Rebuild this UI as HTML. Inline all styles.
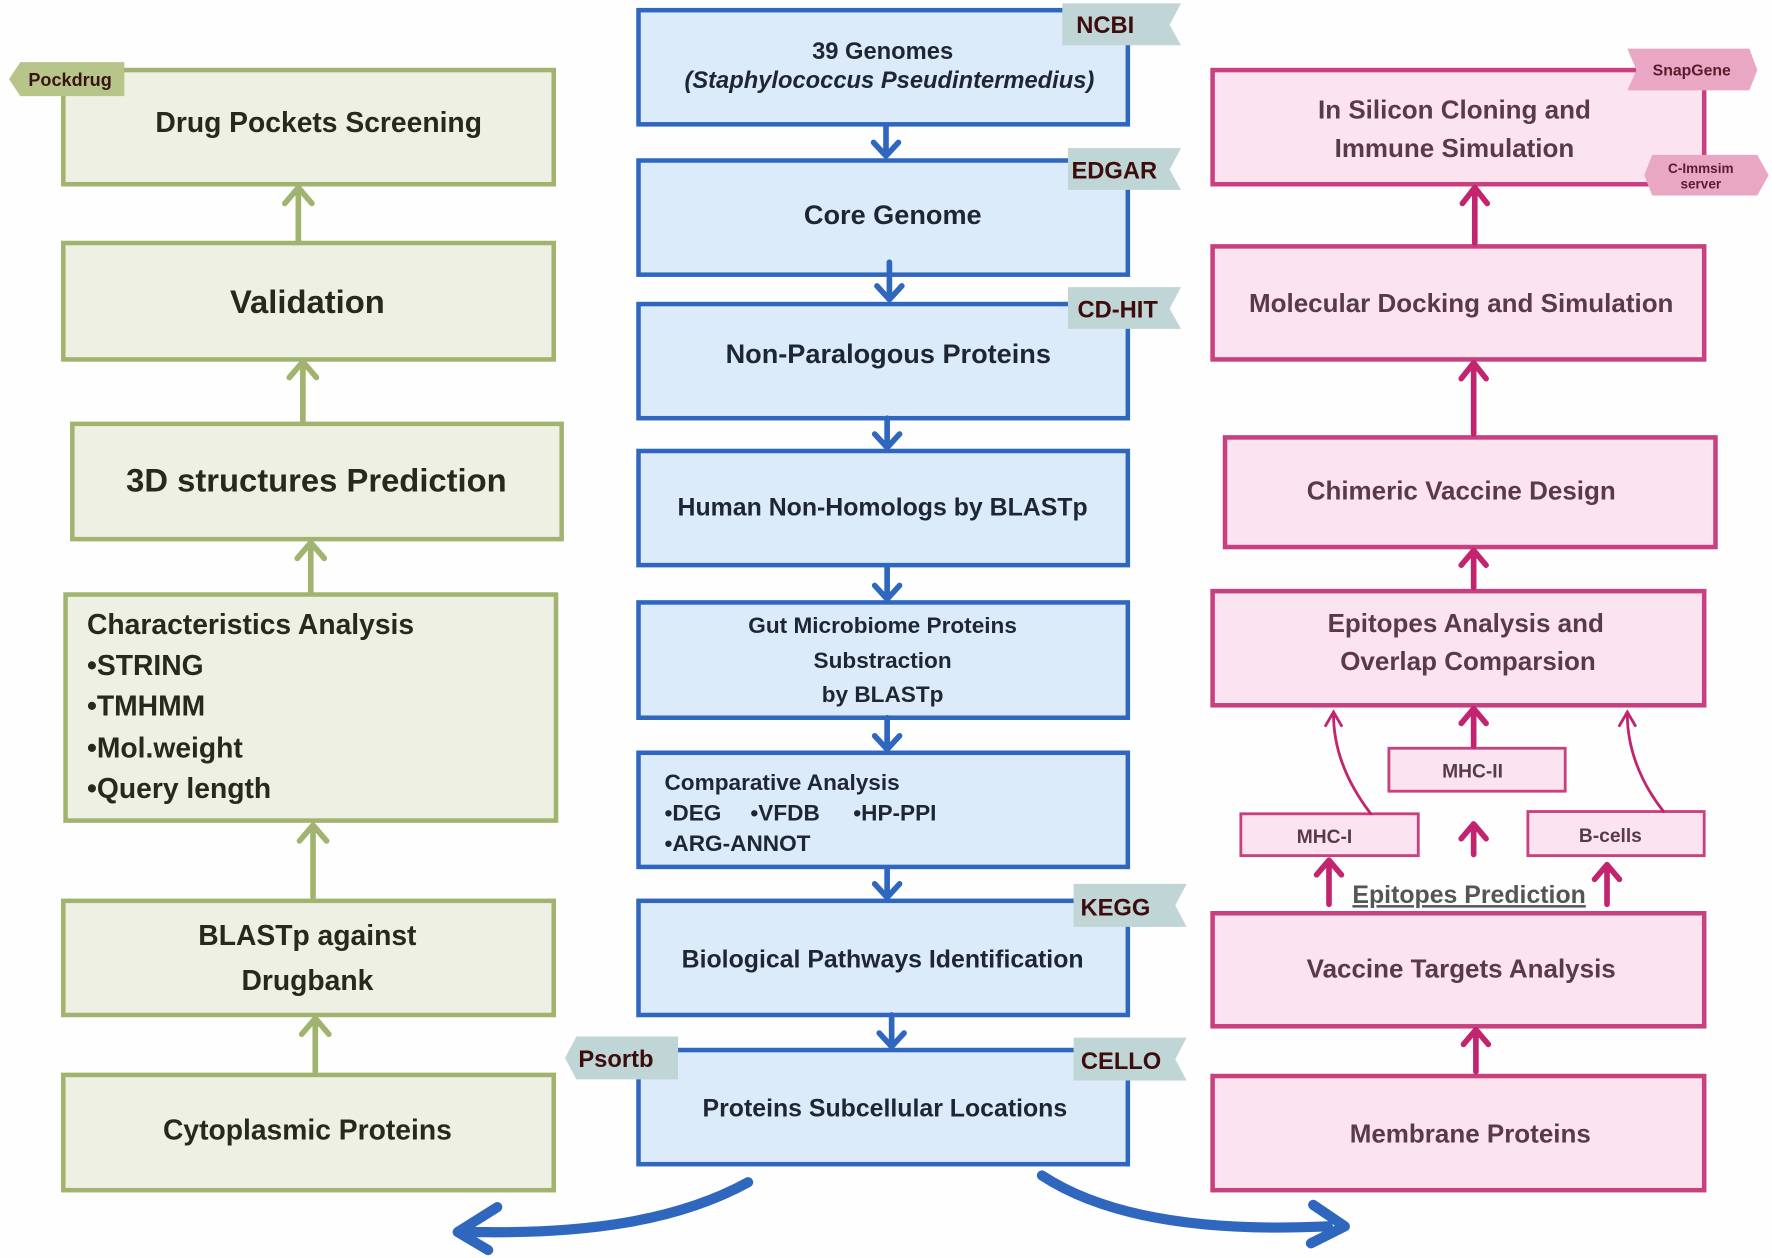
<!DOCTYPE html>
<html><head><meta charset="utf-8"><style>
html,body{margin:0;padding:0;background:#fdfefd;}
svg{display:block;}
text{font-family:"Liberation Sans",sans-serif;font-weight:bold;}
</style></head><body>
<svg width="1772" height="1258" viewBox="0 0 1568 1113" preserveAspectRatio="none" xmlns="http://www.w3.org/2000/svg">
<rect width="1568" height="1113" fill="#fdfefd"/>
<!-- GREEN COLUMN -->
<g fill="#eef0e3" stroke="#a0b46f" stroke-width="4">
<rect x="56" y="62" width="434" height="101"/>
<rect x="56" y="215" width="434" height="103"/>
<rect x="64" y="375" width="433" height="102"/>
<rect x="58" y="526" width="434" height="200"/>
<rect x="56" y="797" width="434" height="101"/>
<rect x="56" y="951" width="434" height="102"/>
</g>
<g stroke="#a0b46f" stroke-width="5" fill="none" stroke-linecap="round" stroke-linejoin="round">
<path d="M264 213V168M252 180L264 166L276 180"/>
<path d="M268 372V322M256 334L268 320L280 334"/>
<path d="M275 523V482M263 494L275 480L287 494"/>
<path d="M277 794V732M265 744L277 730L289 744"/>
<path d="M279 948V903M267 915L279 901L291 915"/>
</g>
<polygon points="8,70 18,55 110,55 110,85 18,85" fill="#b6c58a"/>
<text x="62" y="76" font-size="16" fill="#3a1414" text-anchor="middle">Pockdrug</text>
<g fill="#262a1a" text-anchor="middle">
<text x="282" y="117" font-size="25">Drug Pockets Screening</text>
<text x="272" y="277" font-size="29">Validation</text>
<text x="280" y="435" font-size="29">3D structures Prediction</text>
<text x="272" y="836" font-size="25">BLASTp against</text>
<text x="272" y="876" font-size="25">Drugbank</text>
<text x="272" y="1008" font-size="25">Cytoplasmic Proteins</text>
</g>
<g fill="#262a1a" font-size="25">
<text x="77" y="561">Characteristics Analysis</text>
<text x="77" y="597">•STRING</text>
<text x="77" y="633">•TMHMM</text>
<text x="77" y="670">•Mol.weight</text>
<text x="77" y="706">•Query length</text>
</g>
<!-- BLUE COLUMN -->
<g fill="#dcebf9" stroke="#2f67bf" stroke-width="4">
<rect x="565" y="9" width="433" height="101"/>
<rect x="565" y="142" width="433" height="101"/>
<rect x="565" y="269" width="433" height="101"/>
<rect x="565" y="399" width="433" height="101"/>
<rect x="565" y="533" width="433" height="102"/>
<rect x="565" y="666" width="433" height="101"/>
<rect x="565" y="797" width="433" height="101"/>
<rect x="565" y="929" width="433" height="101"/>
</g>
<g stroke="#2f67bf" stroke-width="5" fill="none" stroke-linecap="round" stroke-linejoin="round">
<path d="M784 111V137M773 126L784 138L795 126"/>
<path d="M787 232V264M776 253L787 265L798 253"/>
<path d="M785 370V395M774 384L785 396L796 384"/>
<path d="M785 501V529M774 518L785 530L796 518"/>
<path d="M785 635V662M774 651L785 663L796 651"/>
<path d="M785 768V793M774 782L785 794L796 782"/>
<path d="M789 898V925M778 914L789 926L800 914"/>
</g>
<g fill="#bfd5d6">
<polygon points="940,3 1045,3 1035,22 1045,40 940,40"/>
<polygon points="945,131 1045,131 1035,150 1045,168 945,168"/>
<polygon points="945,254 1045,254 1035,273 1045,291 945,291"/>
<polygon points="950,782 1050,782 1040,801 1050,820 950,820"/>
<polygon points="950,918 1050,918 1040,937 1050,956 950,956"/>
<polygon points="600,917 510,917 500,936 510,955 600,955"/>
</g>
<g fill="#3d0c0c" font-size="21" text-anchor="middle">
<text x="978" y="29">NCBI</text>
<text x="986" y="158">EDGAR</text>
<text x="989" y="281">CD-HIT</text>
<text x="987" y="810">KEGG</text>
<text x="992" y="946">CELLO</text>
<text x="545" y="944">Psortb</text>
</g>
<g fill="#1f2633" text-anchor="middle">
<text x="781" y="52" font-size="21">39 Genomes</text>
<text x="787" y="78" font-size="21" font-style="italic" font-weight="normal">(Staphylococcus Pseudintermedius)</text>
<text x="790" y="198" font-size="24">Core Genome</text>
<text x="786" y="321" font-size="24">Non-Paralogous Proteins</text>
<text x="781" y="456" font-size="22">Human Non-Homologs by BLASTp</text>
<text x="781" y="560" font-size="20">Gut Microbiome Proteins</text>
<text x="781" y="591" font-size="20">Substraction</text>
<text x="781" y="621" font-size="20">by BLASTp</text>
<text x="781" y="856" font-size="22">Biological Pathways Identification</text>
<text x="783" y="988" font-size="22">Proteins Subcellular Locations</text>
</g>
<g fill="#1f2633" font-size="20">
<text x="588" y="699">Comparative Analysis</text>
<text x="588" y="726">•DEG</text><text x="664" y="726">•VFDB</text><text x="755" y="726">•HP-PPI</text>
<text x="588" y="753">•ARG-ANNOT</text>
</g>
<g stroke="#2f67bf" stroke-width="9" fill="none" stroke-linecap="round" stroke-linejoin="round">
<path d="M662 1046C600 1080 520 1092 418 1090M440 1068L405 1090L432 1106"/>
<path d="M922 1040C980 1078 1070 1090 1175 1085M1162 1066L1190 1085L1160 1100"/>
</g>
<!-- PINK COLUMN -->
<g fill="#fbe4ef" stroke="#c8407f" stroke-width="4">
<rect x="1073" y="62" width="435" height="101"/>
<rect x="1073" y="218" width="435" height="100"/>
<rect x="1084" y="387" width="434" height="97"/>
<rect x="1073" y="523" width="435" height="101"/>
<rect x="1073" y="808" width="435" height="100"/>
<rect x="1073" y="952" width="435" height="101"/>
</g>
<g fill="#fbe4ef" stroke="#c8407f" stroke-width="2.5">
<rect x="1229" y="662" width="156" height="38"/>
<rect x="1098" y="720" width="157" height="37"/>
<rect x="1352" y="718" width="156" height="39"/>
</g>
<g stroke="#c2246f" stroke-width="5" fill="none" stroke-linecap="round" stroke-linejoin="round">
<path d="M1305 215V168M1294 180L1305 166L1316 180"/>
<path d="M1304 384V322M1293 335L1304 321L1315 335"/>
<path d="M1304 520V488M1293 500L1304 487L1315 500"/>
<path d="M1304 660V628M1293 640L1304 627L1315 640"/>
<path d="M1304 756V730M1293 742L1304 729L1315 742"/>
<path d="M1176 800V762M1165 774L1176 761L1187 774"/>
<path d="M1422 800V766M1411 778L1422 765L1433 778"/>
<path d="M1306 948V912M1295 924L1306 911L1317 924"/>
</g>
<g stroke="#c2246f" stroke-width="2.5" fill="none" stroke-linecap="round">
<path d="M1213 720C1190 690 1180 660 1180 632M1173 642L1180 630L1187 642"/>
<path d="M1472 718C1450 690 1440 660 1440 632M1433 642L1440 630L1447 642"/>
</g>
<g fill="#e9a7c3">
<polygon points="1440,43 1548,43 1555,62 1548,80 1440,80 1448,62"/>
<polygon points="1462,137 1555,137 1565,155 1555,173 1462,173 1455,155"/>
</g>
<g fill="#5a1b2e" text-anchor="middle">
<text x="1497" y="67" font-size="14">SnapGene</text>
<text x="1505" y="153" font-size="12">C-Immsim</text>
<text x="1505" y="167" font-size="12">server</text>
</g>
<g fill="#5a3a48" text-anchor="middle">
<text x="1287" y="105" font-size="23">In Silicon Cloning and</text>
<text x="1287" y="139" font-size="23">Immune Simulation</text>
<text x="1293" y="276" font-size="23">Molecular Docking and Simulation</text>
<text x="1293" y="442" font-size="23">Chimeric Vaccine Design</text>
<text x="1297" y="559" font-size="23">Epitopes Analysis and</text>
<text x="1299" y="593" font-size="23">Overlap Comparsion</text>
<text x="1303" y="688" font-size="17">MHC-II</text>
<text x="1172" y="746" font-size="17">MHC-I</text>
<text x="1425" y="745" font-size="17">B-cells</text>
<text x="1293" y="865" font-size="23">Vaccine Targets Analysis</text>
<text x="1301" y="1011" font-size="23">Membrane Proteins</text>
<text x="1300" y="799" font-size="22" font-weight="normal" fill="#555" text-decoration="underline">Epitopes Prediction</text>
</g>
</svg>
</body></html>
